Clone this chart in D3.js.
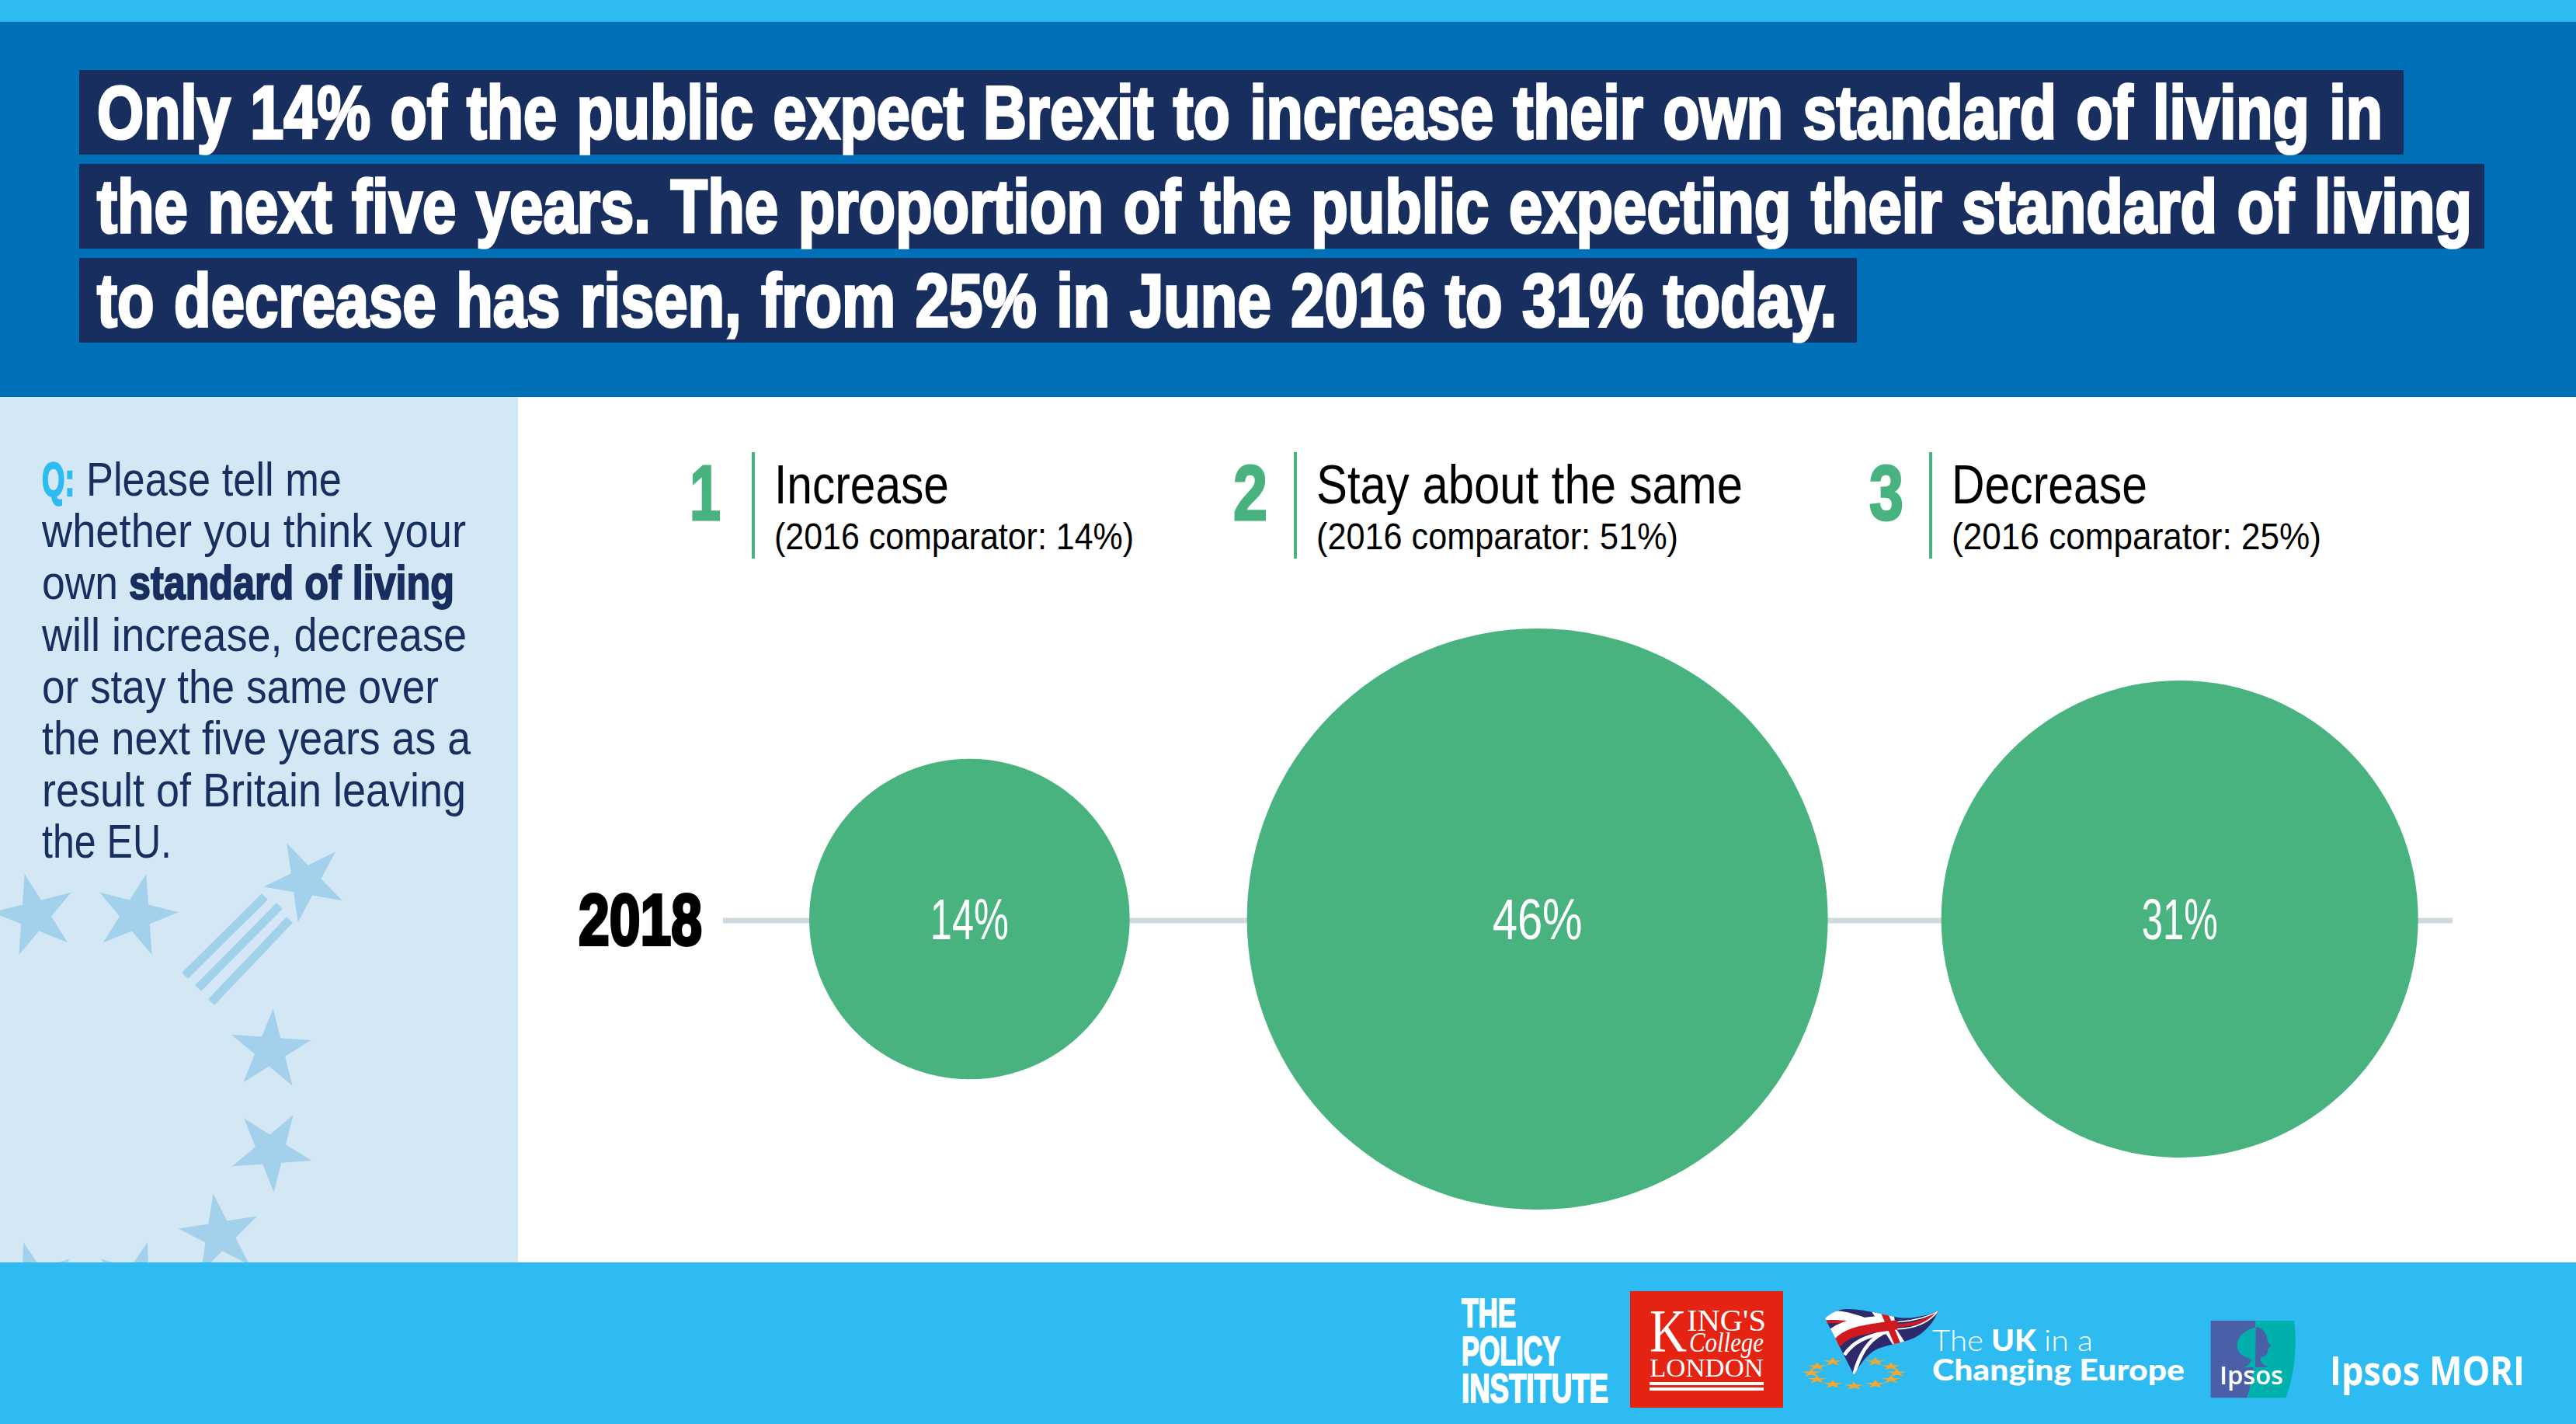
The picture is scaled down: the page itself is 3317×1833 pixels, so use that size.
<!DOCTYPE html>
<html>
<head>
<meta charset="utf-8" />
<script src="https://d3js.org/d3.v7.min.js"></script>
<style>
    html, body { margin: 0; padding: 0; background: #fff; }
    svg { display: block; }
</style>
</head>
<body>
<div id="chart"></div>
<script>
// data
const categories = ["Increase", "Stay about the same", "Decrease"];
const ranks = ["1", "2", "3"];
const values2018 = [14, 46, 31];
const comparators2016 = [14, 51, 25];
const yearLabel = "2018";

const titleLines = [
    "Only 14% of the public expect Brexit to increase their own standard of living in",
    "the next five years. The proportion of the public expecting their standard of living",
    "to decrease has risen, from 25% in June 2016 to 31% today."
];
const questionLines = [
    "whether you think your",
    "will increase, decrease",
    "or stay the same over",
    "the next five years as a",
    "result of Britain leaving",
    "the EU."
];

const width = 3317, height = 1833;
const cyan = "#2dbbf2", band = "#0070b9", navy = "#172e5e", panel = "#d3e7f4",
      green = "#49b37f", starBlue = "#a3d0ea", heavy = "'Liberation Sans Narrow', 'Liberation Sans', sans-serif",
      plain = "'Liberation Sans', sans-serif", narrow = "'Liberation Sans Narrow', 'Liberation Sans', sans-serif",
      serif = "'Liberation Serif', serif";

const svg = d3.select("#chart").append("svg")
    .attr("width", width)
    .attr("height", height);

// text squeezed or stretched to the width measured on the reference
function fit(parent, str, x, y, w, size, o) {
    o = o || {};
    const t = parent.append("text")
        .attr("x", x).attr("y", y)
        .attr("textLength", w)
        .attr("lengthAdjust", "spacingAndGlyphs")
        .attr("font-family", o.family || plain)
        .attr("font-size", size)
        .attr("font-weight", o.weight || "normal")
        .attr("font-style", o.style || "normal")
        .attr("fill", o.fill || "#000")
        .attr("text-anchor", o.anchor || "start")
        .text(str);
    if (o.stroke) t.attr("stroke", o.fill || "#000").attr("stroke-width", o.stroke);
    if (o.wordSpacing) t.attr("word-spacing", o.wordSpacing);
    return t;
}

// backgrounds
svg.append("rect").attr("width", width).attr("height", height).attr("fill", "#fff");
svg.append("rect").attr("width", width).attr("height", 28).attr("fill", cyan);
svg.append("rect").attr("y", 28).attr("width", width).attr("height", 483).attr("fill", band);
svg.append("rect").attr("y", 511).attr("width", 667).attr("height", 1114).attr("fill", panel);

// title
const titleBoxW = [2993, 3097, 2289], titleTextW = [2943, 3058, 2240];
const titleG = svg.append("g");
titleLines.forEach(function (line, i) {
    const top = 90 + i * 121;
    titleG.append("rect").attr("x", 102).attr("y", top).attr("width", titleBoxW[i]).attr("height", 109).attr("fill", navy);
    fit(titleG, line, 125, top + 88, titleTextW[i], 96, { family: heavy, weight: "bold", fill: "#fff", stroke: 3.5, wordSpacing: 5 });
});

// decorative stars and comet on the question panel
const star = d3.symbol().type(d3.symbolStar);
const panelStars = [
    [45, 1178, 55, -14], [175, 1178, 55, 14], [393, 1134, 54, -26], [348, 1352, 54, 4],
    [349, 1481, 54, 176], [283, 1590, 54, -9], [45, 1651, 54, -16], [175, 1651, 54, 16]
];
svg.append("g").selectAll("path")
    .data(panelStars)
    .join("path")
    .attr("d", function (d) { return star.size(d[2] * d[2] / 0.8908)(); })
    .attr("transform", function (d) { return "translate(" + d[0] + "," + d[1] + ") rotate(" + d[3] + ")"; })
    .attr("fill", starBlue);
const cometLines = [[341, 1154, 238, 1256], [360, 1166, 255, 1272], [373, 1184, 272, 1290]];
svg.append("g").selectAll("line")
    .data(cometLines)
    .join("line")
    .attr("x1", function (d) { return d[0]; }).attr("y1", function (d) { return d[1]; })
    .attr("x2", function (d) { return d[2]; }).attr("y2", function (d) { return d[3]; })
    .attr("stroke", starBlue).attr("stroke-width", 11);

// question
const q = svg.append("g");
fit(q, "Q:", 54, 638, 42, 62, { family: heavy, weight: "bold", fill: cyan, stroke: 2.5 });
fit(q, "Please tell me", 111, 638, 329, 62, { fill: navy });
fit(q, questionLines[0], 54, 704, 546, 62, { fill: navy });
fit(q, "own", 54, 771, 98, 62, { fill: navy });
fit(q, "standard of living", 166, 771, 419, 62, { family: heavy, weight: "bold", fill: navy, stroke: 2 });
const questionW = [547, 511, 552, 546, 167];
questionLines.slice(1).forEach(function (line, i) {
    fit(q, line, 54, 838 + i * 66.5, questionW[i], 62, { fill: navy });
});

// bubbles: area is proportional to the value
const r = d3.scaleSqrt().domain([0, 46]).range([0, 374]);
const rowY = 1183;
const firstEdge = 1042, circleGaps = [151, 146];
const cx = [];
values2018.forEach(function (v, i) {
    if (i === 0) cx.push(firstEdge + r(v));
    else cx.push(cx[i - 1] + r(values2018[i - 1]) + circleGaps[i - 1] + r(v));
});

svg.append("line")
    .attr("x1", 931).attr("x2", 3158)
    .attr("y1", 1185).attr("y2", 1185)
    .attr("stroke", "#cfdadf").attr("stroke-width", 7);
fit(svg, yearLabel, 745, 1216, 159, 93, { family: heavy, weight: "bold", stroke: 4 });

svg.append("g").selectAll("circle")
    .data(values2018)
    .join("circle")
    .attr("cx", function (d, i) { return cx[i]; })
    .attr("cy", rowY)
    .attr("r", function (d) { return r(d); })
    .attr("fill", green);

const valueW = [101, 116, 98];
values2018.forEach(function (v, i) {
    fit(svg, v + "%", cx[i], 1209, valueW[i], 74, { family: narrow, fill: "#fff", anchor: "middle" });
});

// column headers
const headerX = [970, 1668, 2486], rankW = [40, 44, 44], rankOff = [82, 80, 79];
const labelW = [225, 549, 252], subW = [463, 466, 476];
categories.forEach(function (c, i) {
    const x = headerX[i];
    svg.append("rect").attr("x", x - 2).attr("y", 582).attr("width", 4).attr("height", 137).attr("fill", green);
    fit(svg, ranks[i], x - rankOff[i], 669, rankW[i], 101, { family: heavy, weight: "bold", fill: green, stroke: 3 });
    fit(svg, c, x + 27, 648, labelW[i], 70, { family: narrow });
    fit(svg, "(2016 comparator: " + comparators2016[i] + "%)", x + 27, 707, subW[i], 49, { family: narrow });
});

// footer with logos
svg.append("rect").attr("y", 1625).attr("width", width).attr("height", height - 1625).attr("fill", cyan);
const foot = svg.append("g");
const boldWhite = { family: heavy, weight: "bold", fill: "#fff", stroke: 2 };
fit(foot, "THE", 1882, 1708, 70, 52, boldWhite);
fit(foot, "POLICY", 1882, 1757, 127, 52, boldWhite);
fit(foot, "INSTITUTE", 1882, 1805, 189, 52, boldWhite);

foot.append("rect").attr("x", 2099).attr("y", 1662).attr("width", 197).attr("height", 150).attr("fill", "#e42313");
fit(foot, "K", 2124, 1739, 48, 78, { family: serif, fill: "#fff" });
fit(foot, "ING'S", 2172, 1713, 102, 40, { family: serif, fill: "#fff" });
fit(foot, "College", 2175, 1740, 96, 36, { family: serif, style: "italic", fill: "#fff" });
fit(foot, "LONDON", 2124, 1772, 147, 34, { family: serif, fill: "#fff" });
foot.append("rect").attr("x", 2124).attr("y", 1779).attr("width", 147).attr("height", 4).attr("fill", "#fff");
foot.append("rect").attr("x", 2124).attr("y", 1786).attr("width", 147).attr("height", 4).attr("fill", "#fff");

// union flag, drawn in the 3x crop's units
const flag = foot.append("g").attr("transform", "translate(2300,1670) scale(0.3333)");
const flagShape = "M150,80 C175,60 200,45 235,45 C280,45 320,55 350,60 C400,70 440,85 490,78 C530,72 565,65 587,52 C575,85 555,115 515,145 C470,175 400,180 350,200 C310,220 285,260 262,300 Z";
svg.append("clipPath").attr("id", "flag-clip").append("path").attr("d", flagShape);
flag.append("path").attr("d", flagShape).attr("fill", "#2d2a6b");
const flagBody = flag.append("g").attr("clip-path", "url(#flag-clip)");
const flagStrokes = [
    ["M145,72 C210,60 300,90 365,125", "#fff", 36],
    ["M155,95 C210,90 280,100 345,118", "#d11a1f", 11],
    ["M165,165 C230,100 310,110 420,95", "#fff", 60],
    ["M225,222 C260,170 310,150 385,135", "#fff", 14],
    ["M262,298 C280,230 310,170 370,140", "#fff", 14],
    ["M350,45 L440,185", "#fff", 44],
    ["M375,50 L430,180", "#d11a1f", 24],
    ["M195,178 C240,125 310,125 430,105", "#d11a1f", 36],
    ["M430,108 C490,108 550,90 587,52", "#d11a1f", 12],
    ["M430,122 C490,120 550,100 587,52", "#fff", 5],
    ["M430,95 C490,92 550,75 587,52", "#fff", 4]
];
flagBody.selectAll("path")
    .data(flagStrokes)
    .join("path")
    .attr("d", function (d) { return d[0]; })
    .attr("fill", "none")
    .attr("stroke", function (d) { return d[1]; })
    .attr("stroke-width", function (d) { return d[2]; });

// ring of flattened stars under the flag, top position left empty
flag.append("g").selectAll("path")
    .data(d3.range(1, 12))
    .join("path")
    .attr("d", star.size(40 * 40 / 0.8908)())
    .attr("transform", function (d) {
        const a = d * Math.PI / 6;
        return "translate(" + (262 + 165 * Math.sin(a)) + "," + (292 - 50 * Math.cos(a)) + ") scale(1,0.42)";
    })
    .attr("fill", "#f0a832");

const ukLight = { family: "Lato, 'Open Sans', sans-serif", weight: 300, fill: "#fff" };
fit(foot, "The", 2488, 1739, 66, 38, ukLight);
fit(foot, "UK", 2564, 1739, 58, 38, { family: "Lato, 'Open Sans', sans-serif", weight: "900", fill: "#fff" });
fit(foot, "in a", 2632, 1739, 63, 38, ukLight);
fit(foot, "Changing Europe", 2488, 1777, 325, 38, { family: "Lato, 'Open Sans', sans-serif", weight: "900", fill: "#fff" });

// ipsos mark, 3x crop units as well
const ipsos = foot.append("g").attr("transform", "translate(2830,1690) scale(0.3333)");
ipsos.append("path").attr("d", "M50,30 H222 C226,150 215,260 190,328 H50 Z").attr("fill", "#4a5fa8");
ipsos.append("path").attr("d", "M222,30 H372 C385,110 375,240 340,328 H190 C215,260 226,150 222,30 Z").attr("fill", "#00b0ad");
ipsos.append("path").attr("d", "M222,57 C195,62 152,85 152,125 C152,160 185,170 205,178 C205,195 195,205 178,210 H222 Z").attr("fill", "#00b0ad");
ipsos.append("path").attr("d", "M224,55 C252,55 268,82 270,110 L283,128 L271,138 C273,155 262,170 245,170 C238,178 242,198 275,210 H222 Z").attr("fill", "#4a5fa8");
fit(foot, "Ipsos", 2858, 1782, 82, 33, { family: "'Open Sans', sans-serif", weight: 600, fill: "#fff" });
fit(foot, "Ipsos MORI", 3000, 1783, 251, 52, { family: "'Open Sans', sans-serif", weight: 700, fill: "#fff" });
</script>
</body>
</html>
